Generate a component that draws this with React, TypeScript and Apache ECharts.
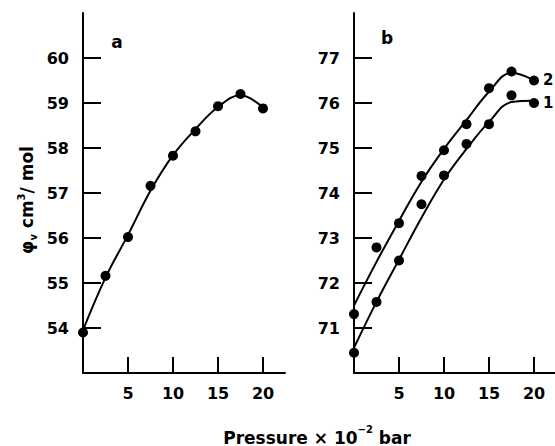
import React, { useEffect, useRef } from "react";
import * as echarts from "echarts";

// Pressure (×10⁻² bar)
const pressure = [0, 2.5, 5, 7.5, 10, 12.5, 15, 17.5, 20];

// Panel a: measured points and drawn curve
const aPoints = [53.9, 55.16, 56.02, 57.16, 57.83, 58.37, 58.93, 59.2, 58.88];
const aCurve = [53.95, 55.12, 56.07, 57.05, 57.84, 58.42, 58.91, 59.17, 58.9];

// Panel b: series 2 (upper) and series 1 (lower)
const b2Points = [71.31, 72.79, 73.33, 74.38, 74.95, 75.53, 76.33, 76.7, 76.5];
const b2Curve = [71.5, 72.47, 73.38, 74.25, 74.98, 75.62, 76.25, 76.67, 76.5];
const b1Points = [70.45, 71.58, 72.5, 73.75, 74.39, 75.09, 75.53, 76.17, 76.0];
const b1Curve = [70.56, 71.58, 72.52, 73.45, 74.3, 74.98, 75.58, 76.02, 76.05];

const xTicks = [5, 10, 15, 20];
const aYTicks = [54, 55, 56, 57, 58, 59, 60];
const bYTicks = [71, 72, 73, 74, 75, 76, 77];

const FONT = "DejaVu Sans";

const pair = (ys: number[]) => pressure.map((x, i) => [x, ys[i]]);

export default function App() {
  const ref = useRef<HTMLDivElement>(null);
  useEffect(() => {
    if (!ref.current) return;
    const chart = echarts.init(ref.current, null, { renderer: "svg" });
    const axisLine = { show: true, onZero: false, lineStyle: { color: "#000", width: 2 } };
    const xAxis = (gridIndex: number, max: number) => ({
      type: "value",
      gridIndex,
      min: 0,
      max,
      splitLine: { show: false },
      axisLine,
      axisTick: { show: true, inside: true, length: 16, customValues: xTicks, lineStyle: { color: "#000", width: 2 } },
      axisLabel: { show: true, customValues: xTicks, margin: 12, color: "#000", fontFamily: FONT, fontWeight: "bold", fontSize: 16 },
    });
    const yAxis = (gridIndex: number, min: number, max: number, ticks: number[]) => ({
      type: "value",
      gridIndex,
      min,
      max,
      splitLine: { show: false },
      axisLine,
      axisTick: { show: true, inside: true, length: 18, customValues: ticks, lineStyle: { color: "#000", width: 2 } },
      axisLabel: { show: true, customValues: ticks, margin: 14, color: "#000", fontFamily: FONT, fontWeight: "bold", fontSize: 16 },
    });
    const curve = (data: number[][], idx: number) => ({
      type: "line",
      xAxisIndex: idx,
      yAxisIndex: idx,
      data,
      smooth: 0.4,
      showSymbol: false,
      symbol: "none",
      lineStyle: { color: "#000", width: 2 },
      silent: true,
    });
    const pts = (data: number[][], idx: number) => ({
      type: "scatter",
      xAxisIndex: idx,
      yAxisIndex: idx,
      data,
      symbol: "circle",
      symbolSize: 10,
      itemStyle: { color: "#000", opacity: 1 },
    });
    chart.setOption({
      animation: false,
      backgroundColor: "#fff",
      grid: [
        { left: 83, top: 13, width: 202, height: 360 },
        { left: 354, top: 13, width: 201, height: 360 },
      ],
      xAxis: [xAxis(0, 202 / 9), xAxis(1, 201 / 9)],
      yAxis: [yAxis(0, 53, 61, aYTicks), yAxis(1, 70, 78, bYTicks)],
      series: [
        curve(pair(aCurve), 0),
        pts(pair(aPoints), 0),
        curve(pair(b2Curve), 1),
        pts(pair(b2Points), 1),
        curve(pair(b1Curve), 1),
        pts(pair(b1Points), 1),
      ],
      graphic: [
        { type: "text", x: 117, y: 42, style: { text: "a", font: `bold 17px ${FONT}`, fill: "#000", align: "center", verticalAlign: "middle" } },
        { type: "text", x: 387, y: 38, style: { text: "b", font: `bold 17px ${FONT}`, fill: "#000", align: "center", verticalAlign: "middle" } },
        { type: "text", x: 543, y: 80, style: { text: "2", font: `bold 15px ${FONT}`, fill: "#000", align: "left", verticalAlign: "middle" } },
        { type: "text", x: 543, y: 103, style: { text: "1", font: `bold 15px ${FONT}`, fill: "#000", align: "left", verticalAlign: "middle" } },
        {
          type: "text",
          x: 317,
          y: 435,
          style: {
            text: "{n|Pressure × 10}{sup|−2}{n| bar}",
            align: "center",
            verticalAlign: "middle",
            fill: "#000",
            rich: {
              n: { fontFamily: FONT, fontWeight: "bold", fontSize: 17, fill: "#000", lineHeight: 22, verticalAlign: "bottom" },
              sup: { fontFamily: FONT, fontWeight: "bold", fontSize: 10, fill: "#000", lineHeight: 22, verticalAlign: "top" },
            },
          },
        },
        {
          type: "text",
          x: 27,
          y: 200,
          rotation: Math.PI / 2,
          style: {
            text: "{n|φ}{sub|v}{n| cm}{sup|3}{n|/ mol}",
            align: "center",
            verticalAlign: "middle",
            fill: "#000",
            rich: {
              n: { fontFamily: FONT, fontWeight: "bold", fontSize: 17, fill: "#000", lineHeight: 22, verticalAlign: "middle" },
              sub: { fontFamily: FONT, fontWeight: "bold", fontSize: 10, fill: "#000", lineHeight: 22, verticalAlign: "bottom" },
              sup: { fontFamily: FONT, fontWeight: "bold", fontSize: 10, fill: "#000", lineHeight: 22, verticalAlign: "top" },
            },
          },
        },
      ],
    });
    return () => chart.dispose();
  }, []);
  return (
    <div
      ref={ref}
      style={{ position: "absolute", left: 0, top: 0, width: 555, height: 446, background: "#fff" }}
    />
  );
}
